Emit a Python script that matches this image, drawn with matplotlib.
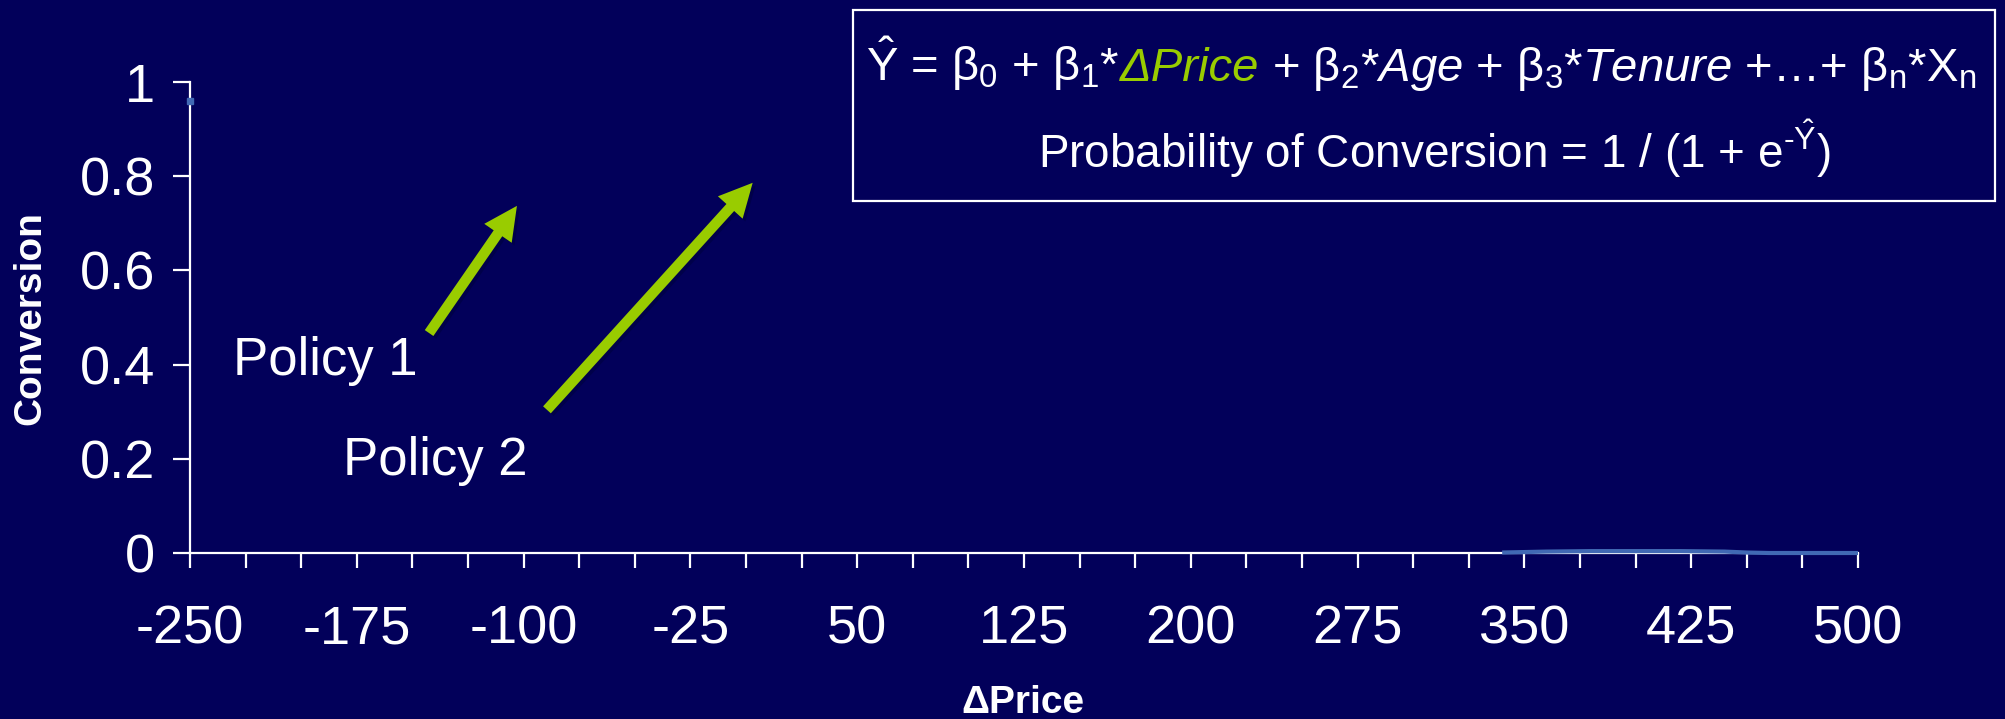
import numpy as np
import matplotlib
matplotlib.use("Agg")
import matplotlib.pyplot as plt
from matplotlib.patches import Rectangle, FancyArrowPatch
from matplotlib.ticker import MultipleLocator, FixedLocator
import matplotlib.patheffects as pe

plt.rcParams['font.family'] = ['Liberation Sans', 'DejaVu Sans']
plt.rcParams['mathtext.fontset'] = 'custom'
plt.rcParams['mathtext.rm'] = 'Liberation Sans'
plt.rcParams['mathtext.it'] = 'Liberation Sans:italic'
plt.rcParams['mathtext.bf'] = 'Liberation Sans:bold'

# ---- data ----
price_delta = [340, 360, 380, 400, 420, 440, 450, 460, 480, 500]
conversion = [0.001, 0.003, 0.004, 0.004, 0.004, 0.003, 0.001, 0.0, 0.0, 0.0]
start_price = [-250]
start_conv = [0.96]
x_ticks = [-250, -175, -100, -25, 50, 125, 200, 275, 350, 425, 500]
y_ticks = [0, 0.2, 0.4, 0.6, 0.8, 1]
y_tick_labels = ["0", "0.2", "0.4", "0.6", "0.8", "1"]
policy_labels = ["Policy 1", "Policy 2"]

BG = '#02005A'
GREEN = '#99CC00'
LINE = '#4169B4'
W, H = 2005, 719

fig = plt.figure(figsize=(W / 100, H / 100), dpi=100, facecolor=BG)
ax = fig.add_axes([190 / W, 1 - 553 / H, (1858 - 190) / W, (553 - 82) / H])
ax.set_facecolor(BG)

ax.plot(price_delta, conversion, color=LINE, lw=3, zorder=4, clip_on=False,
        solid_capstyle='butt')
ax.plot(start_price, start_conv, 's', color=LINE, ms=4, zorder=4, clip_on=False)

ax.set_xlim(-250, 500)
ax.set_ylim(0, 1)
for s in ['top', 'right']:
    ax.spines[s].set_visible(False)
for s in ['left', 'bottom']:
    ax.spines[s].set_color('white')
    ax.spines[s].set_linewidth(1.6)

ax.xaxis.set_major_locator(FixedLocator(x_ticks))
ax.xaxis.set_minor_locator(MultipleLocator(25))
ax.set_xticklabels([str(v) for v in x_ticks])
ax.set_yticks(y_ticks)
ax.set_yticklabels(y_tick_labels)
ax.tick_params(axis='x', which='both', direction='out', length=11, width=1.6,
               color='white', labelcolor='white', labelsize=39, pad=26)
ax.tick_params(axis='y', which='major', direction='out', length=12, width=1.6,
               color='white', labelcolor='white', labelsize=39, pad=13)

# axis titles
fig.text(30 / W, 1 - 318 / H, "Conversion", rotation=90, color='white',
         fontsize=28, fontweight='bold', ha='center', va='center')
fig.text(1023 / W, 1 - 685 / H, "ΔPrice", color='white',
         fontsize=28, fontweight='bold', ha='center', va='top')

# policy labels and arrows
ax.text(-230.7, 0.378, policy_labels[0], color='white', fontsize=38,
        ha='left', va='baseline')
ax.text(-181.2, 0.166, policy_labels[1], color='white', fontsize=38,
        ha='left', va='baseline')
shadow = [pe.withSimplePatchShadow(offset=(2, -2), shadow_rgbFace='#00004A', alpha=1.0)]
for (xa, ya), (xb, yb) in [((-142.5, 0.467), (-103, 0.737)),
                           ((-89.5, 0.304), (3, 0.786))]:
    arr = FancyArrowPatch((xa, ya), (xb, yb),
                          arrowstyle='simple,head_length=24,head_width=24,tail_width=7.5',
                          mutation_scale=1, fc=GREEN, ec='none', lw=0,
                          shrinkA=0, shrinkB=0, zorder=5)
    arr.set_path_effects(shadow)
    ax.add_patch(arr)

# equation box
fig.add_artist(Rectangle((853 / W, 1 - 201 / H), (1995 - 853) / W, (201 - 10) / H,
                         transform=fig.transFigure, fill=False, ec='white', lw=1.6))

renderer = fig.canvas.get_renderer()
segments = [
    (r"$\hat{\mathrm{Y}}$ = β$_\mathrm{0}$ + β$_\mathrm{1}$*", 'white', 'normal'),
    ("ΔPrice", GREEN, 'italic'),
    (r" + β$_\mathrm{2}$*$\mathit{Age}$ + β$_\mathrm{3}$*$\mathit{Tenure}$ +…+ "
     r"β$_\mathrm{n}$*$\mathrm{X}_\mathrm{n}$", 'white', 'normal'),
]
texts = []
for s, c, st in segments:
    t = fig.text(0, 1 - 81 / H, s, color=c, fontsize=34, style=st,
                 ha='left', va='baseline')
    texts.append(t)
widths = [t.get_window_extent(renderer).width for t in texts]
x_px = 1421 - sum(widths) / 2
for t, w in zip(texts, widths):
    t.set_x(x_px / W)
    x_px += w

fig.text(1434 / W, 1 - 168 / H,
         r"Probability of Conversion = 1 / (1 + e$^{\text{-}\hat{\mathrm{Y}}}$)",
         color='white', fontsize=33, ha='center', va='baseline')

fig.savefig("out.png", dpi=100, facecolor=BG)
